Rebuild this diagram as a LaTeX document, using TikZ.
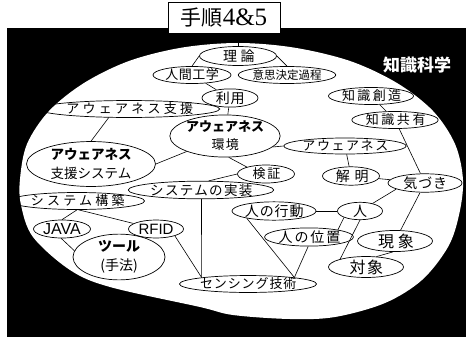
\documentclass[tikz,border=0pt]{standalone}
\usepackage{fontspec}
\setmainfont{Noto Sans CJK JP}
\newfontfamily\latinsans{Liberation Sans}
\newfontfamily\latinserif{Liberation Serif}
\usetikzlibrary{shapes.geometric}
\newcommand\fz[2][0]{\fontsize{#2}{#2}\selectfont\addfontfeatures{LetterSpace=#1}\kern\dimexpr #2pt*#1/200\relax}
\begin{document}
\begin{tikzpicture}[x=1pt,y=-1pt,
  en/.style={draw, ellipse, line width=0.7pt, inner sep=0pt, text=black},
  ed/.style={line width=0.6pt}]
\useasboundingbox (0,0) rectangle (470,337);
\fill[black] (7,28) rectangle (466,337);
\fill[white] plot[smooth cycle, tension=0.55] coordinates {
  (238,43) (294,47.6) (350,61) (397,83) (433,111) (455,144) (463,180)
  (459,215) (448,247) (422,280) (385,303) (335,317) (290,319) (233,315)
  (200,307) (110,287) (70,270) (33,237) (21,205) (20,179) (27,144)
  (49,111) (84,83) (129,61) (182,47.6)};
% title
\node[draw, fill=white, line width=0.9pt, minimum width=112pt, minimum height=31pt, inner sep=0pt] (title) at (224,17.5)
  {\fz{21}手順{\latinserif\fontsize{25}{25}\selectfont 4\&5}};
\node[text=white] (ks) at (417,65) {\bfseries\fz{17}知識科学};
% nodes
\node[en, minimum width=77pt, minimum height=19pt] (ri) at (238,56) {\fz[25]{14}理論};
\node[en, minimum width=78pt, minimum height=17pt] (ng) at (192,75) {\fz[4]{13}人間工学};
\node[en, minimum width=78pt, minimum height=17pt] (ishi) at (287,75) {\fz{11.5}意思決定過程};
\node[en, minimum width=56pt, minimum height=18pt] (riyo) at (230,98) {\fz[7]{14}利用};
\node[en, minimum width=150pt, minimum height=16pt] (shien) at (129,109) {\fz[25]{13}アウェアネス支援};
\node[en, minimum width=104pt, minimum height=37pt, align=center, font=\fontsize{13}{18}\selectfont] (kankyo) at (225,136)
  {{\bfseries アウェアネス}\\{\addfontfeatures{LetterSpace=8}\kern0.5pt 環境}};
\node[en, minimum width=77pt, minimum height=16pt] (chisou) at (371,96) {\fz[18]{13}知識創造};
\node[en, minimum width=74pt, minimum height=16pt] (chikyo) at (395,120) {\fz[20]{13}知識共有};
\node[en, minimum width=100pt, minimum height=16pt] (aw) at (345,146) {\fz[12]{13}アウェアネス};
\node[en, minimum width=129pt, minimum height=38pt, align=center, font=\fontsize{13.5}{19.5}\selectfont] (shiensys) at (91,164)
  {{\bfseries アウェアネス}\\支援システム};
\node[en, minimum width=57pt, minimum height=18pt] (kensho) at (266,174) {\fz[15]{13}検証};
\node[en, minimum width=57pt, minimum height=18pt] (kaimei) at (351,176) {\fz[35]{14}解明};
\node[en, minimum width=74pt, minimum height=17pt] (kizuki) at (425,183) {\fz[7]{14}気づき};
\node[en, minimum width=112pt, minimum height=15pt] (jisso) at (201,190) {\fz[10]{13.5}システムの実装};
\node[en, minimum width=101pt, minimum height=15pt] (kouchiku) at (77,201) {\fz[25]{13}システム構築};
\node[en, minimum width=76pt, minimum height=18pt] (koudou) at (274,211) {\fz[7]{14}人の行動};
\node[en, minimum width=45pt, minimum height=16pt] (hito) at (360,211) {\fz{14}人};
\node[en, minimum width=57pt, minimum height=18pt] (java) at (62,229) {\latinsans\fz{16}JAVA};
\node[en, minimum width=55pt, minimum height=18pt] (rfid) at (156,229) {\latinsans\fz{15}RFID};
\node[en, minimum width=76pt, minimum height=17pt] (ichi) at (309,237) {\fz[14]{14}人の位置};
\node[en, minimum width=75pt, minimum height=18pt] (gensho) at (395,241) {\fz[25]{16}現象};
\node[en, minimum width=92pt, minimum height=38pt, align=center, font=\fontsize{14}{18.5}\selectfont] (tool) at (119,257)
  {{\bfseries ツール}\\(手法)};
\node[en, minimum width=75pt, minimum height=19pt] (taisho) at (366,267) {\fz[10]{16}対象};
\node[en, minimum width=130pt, minimum height=16pt] (sensing) at (248,284) {\fz[7]{13}センシング技術};
% connectors
\draw[ed] (ri.north |- title.south) -- (ri.north);
\draw[ed] (ri.west) -- (ng.north);
\draw[ed] (ri.east) -- (ishi.north);
\draw[ed] (ng) -- (riyo);
\draw[ed] (riyo) -- (kankyo);
\draw[ed] (shien.203) -- (shiensys.north);
\draw[ed] (shiensys.east) -- (kankyo);
\draw[ed] (kankyo.-13) -- (aw.west);
\draw[ed] (kankyo.-80) -- (kensho.160);
\draw[ed] (kensho.west) -- (jisso.50);
\draw[ed] (chisou) -- (chikyo);
\draw[ed] (chikyo) -- (kizuki);
\draw[ed] (aw) -- (kaimei);
\draw[ed] (kaimei) -- (kizuki);
\draw[ed] (kizuki.-168) -- (hito);
\draw[ed] (kizuki) -- (gensho);
\draw[ed] (koudou) -- (hito);
\draw[ed] (hito.-158) -- (ichi.14);
\draw[ed] (hito.south) -- (taisho.163);
\draw[ed] (gensho.-100) -- (taisho.45);
\draw[ed] (koudou.-165) -- (sensing.8);
\draw[ed] (ichi.-95) -- (sensing.8);
\draw[ed] (jisso.-87) -- (sensing.172);
\draw[ed] (rfid.-20) -- (sensing.172);
\draw[ed] (kouchiku.south) -- (java.north);
\draw[ed] (kouchiku.-80) -- (rfid);
\draw[ed] (java.-95) -- (tool.172);
\end{tikzpicture}
\end{document}
